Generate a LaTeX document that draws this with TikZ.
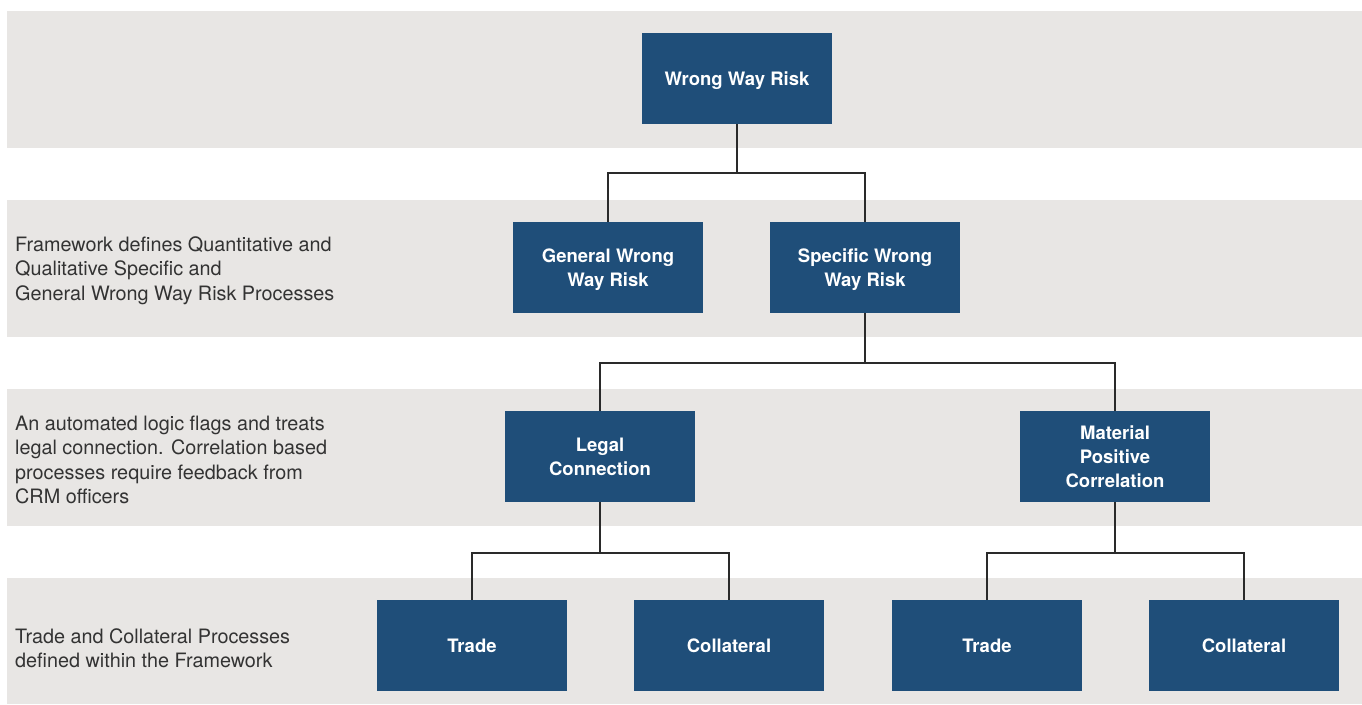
\documentclass[tikz,border=0pt]{standalone}
\usepackage{fontspec}
\setmainfont{TeX Gyre Heros}
\usepackage{tikz}
\usetikzlibrary{positioning}
\definecolor{wwrBlue}{HTML}{1F4E79}
\definecolor{wwrBand}{HTML}{E8E6E4}
\definecolor{wwrLine}{HTML}{2A2A2A}
\definecolor{wwrText}{HTML}{333333}

\begin{document}
\begin{tikzpicture}[
  x=1pt, y=-1pt,
  band/.style={fill=wwrBand},
  riskbox/.style={fill=wwrBlue, text=white, minimum width=190pt, minimum height=91pt,
                  align=center, inner sep=0pt, text depth=0pt,
                  font=\fontsize{18.5}{24}\selectfont\bfseries},
  note/.style={anchor=west, align=left, inner sep=0pt, text=wwrText,
               font=\fontsize{19.8}{24.5}\selectfont},
  link/.style={draw=wwrLine, line width=2pt}
]
\useasboundingbox (0,0) rectangle (1362,704);

% background bands
\fill[band] (7,11) rectangle (1362,147.5);
\fill[band] (7,200) rectangle (1362,336.5);
\fill[band] (7,389) rectangle (1362,525.5);
\fill[band] (7,578) rectangle (1362,704);

% side notes
\node[note] (noteA) at (15,270.5) {Framework defines Quantitative and\\Qualitative Specific and\\General Wrong Way Risk Processes};
\node[note] (noteB) at (15,460) {An automated logic flags and treats\\legal connection. Correlation based\\processes require feedback from\\CRM officers};
\node[note] (noteC) at (15,648) {Trade and Collateral Processes\\defined within the Framework};

% tree
\node[riskbox] (wwr) at (737,78.5) {Wrong Way Risk};
\node[riskbox] (general) at (608,267.5) {General Wrong\\Way Risk};
\node[riskbox] (specific) at (865,267.5) {Specific Wrong\\Way Risk};
\node[riskbox] (legal) at (600,456.5) {Legal\\Connection};
\node[riskbox] (material) at (1115,456.5) {Material\\Positive\\Correlation};
\node[riskbox] (tradeL) at (472,645.5) {Trade};
\node[riskbox] (collL) at (729,645.5) {Collateral};
\node[riskbox] (tradeR) at (987,645.5) {Trade};
\node[riskbox] (collR) at (1244,645.5) {Collateral};

\coordinate (j1) at (737,173);
\coordinate (j2) at (865,363);
\coordinate (j3) at (600,552.5);
\coordinate (j4) at (1115,552.5);

\draw[link] (wwr.south) -- (j1);
\draw[link] (j1) -| (general.north);
\draw[link] (j1) -| (specific.north);
\draw[link] (specific.south) -- (j2);
\draw[link] (j2) -| (legal.north);
\draw[link] (j2) -| (material.north);
\draw[link] (legal.south) -- (j3);
\draw[link] (j3) -| (tradeL.north);
\draw[link] (j3) -| (collL.north);
\draw[link] (material.south) -- (j4);
\draw[link] (j4) -| (tradeR.north);
\draw[link] (j4) -| (collR.north);
\end{tikzpicture}
\end{document}
